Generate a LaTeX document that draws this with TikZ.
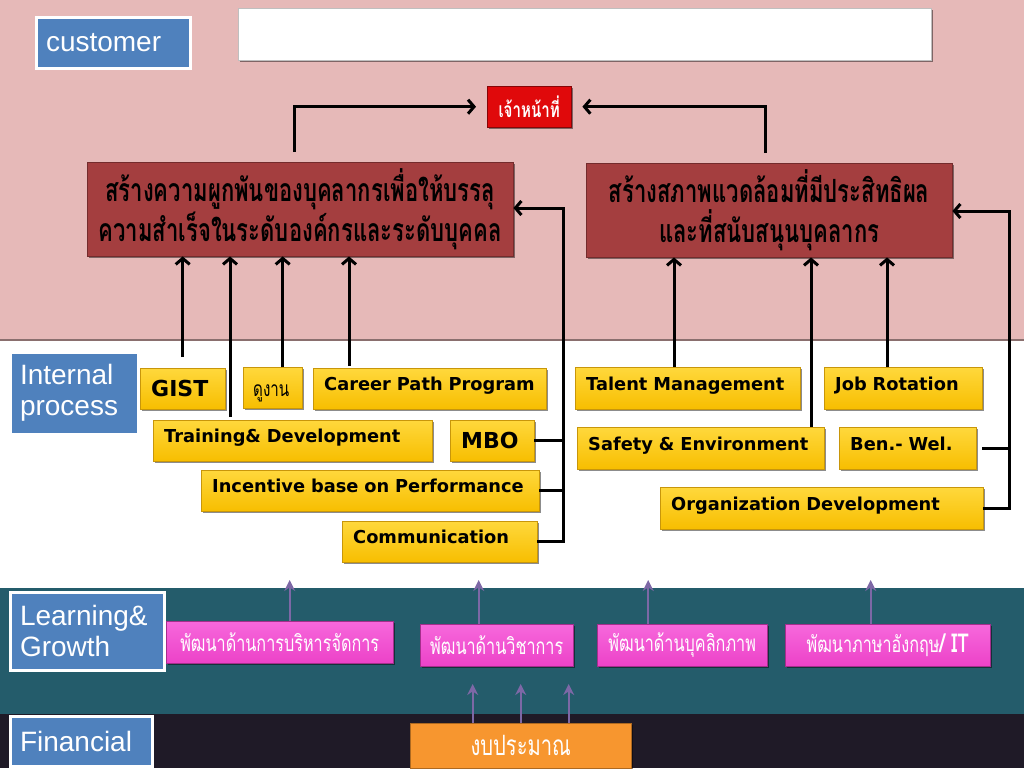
\documentclass[tikz,border=0pt]{standalone}
\usepackage{fontspec}
\setmainfont{Liberation Sans}
\newfontfamily\thaifont[Script=Thai,FakeStretch=0.72]{Loma}
\newfontfamily\thaicond[Script=Thai,FakeStretch=0.69]{Loma}
\newfontfamily\verd{DejaVu Sans}
\usetikzlibrary{arrows.meta,shadows}
\definecolor{bgpink}{HTML}{E6B9B8}
\definecolor{bgteal}{HTML}{245C6B}
\definecolor{bgdark}{HTML}{1F1A27}
\definecolor{lblue}{HTML}{4F81BD}
\definecolor{goalred}{HTML}{A43E3F}
\definecolor{ofcred}{HTML}{E0090B}
\definecolor{gold}{HTML}{F7BE00}
\definecolor{goldlt}{HTML}{FFD83C}
\definecolor{golddk}{HTML}{C8960A}
\definecolor{magen}{HTML}{EC42C8}
\definecolor{magenlt}{HTML}{F768DC}
\definecolor{orng}{HTML}{F7962F}
\definecolor{purp}{HTML}{7D68A6}

\begin{document}
\begin{tikzpicture}[x=1pt,y=-1pt,
		sh/.style={drop shadow={shadow xshift=2pt,shadow yshift=-2pt,opacity=.45,fill=black}},
		lbl/.style={draw=white, line width=3pt, fill=lblue, text=white, anchor=north west, align=left, inner xsep=10pt, font=\fontsize{28}{31}\selectfont, sh},
		goal/.style={draw=goalred!70!black, fill=goalred, anchor=north west, align=center, minimum height=94pt, font=\thaicond\bfseries\fontsize{32}{40}\selectfont, sh},
		ybox/.style={draw=golddk, top color=goldlt, bottom color=gold, anchor=north west, align=left, inner xsep=11pt, minimum height=41pt, text height=13pt, text depth=9pt, font=\verd\bfseries\fontsize{17.8}{20}\selectfont, sh},
		bigy/.style={ybox, text height=18pt, text depth=2pt, font=\verd\bfseries\fontsize{22}{24}\selectfont},
		pbox/.style={draw=magen!70!black, top color=magenlt, bottom color=magen, text=white, anchor=north west, minimum height=42pt, font=\thaifont\fontsize{22.5}{24}\selectfont, sh},
		barrow/.style={line width=3pt, -{Straight Barb[length=6pt,width=14pt]}},
		bline/.style={line width=3pt},
		parrow/.style={purp, line width=2.4pt, -{Stealth[length=11pt,width=11pt]}}
		]
		% bands
		\useasboundingbox (0,0) rectangle (1024,768);
		\fill[bgpink] (0,0) rectangle (1024,340);
		\fill[white] (0,340) rectangle (1024,588);
		\fill[bgteal] (0,588) rectangle (1024,714);
		\fill[bgdark] (0,714) rectangle (1024,768);
		\draw[bgpink!60!black, line width=2pt] (0,340) -- (1024,340);
		
		% labels
		\node[lbl, text width=134pt, minimum height=50pt] (cu) at (34.5,16.5) {customer};
		\node[lbl, text width=108pt, minimum height=82pt] (ip) at (8.5,350.5) {Internal\\process};
		\node[lbl, text width=134pt, minimum height=78pt] (lg) at (8.5,590.5) {Learning\&\\Growth};
		\node[lbl, text width=122pt, minimum height=50pt] (fn) at (8.5,714.5) {Financial};
		
		% customer level
		\node[draw=black!25, fill=white, sh, anchor=north west, minimum width=693pt, minimum height=52pt] (hd) at (238,8) {};
		\node[draw=ofcred!60!black, fill=ofcred, text=white, anchor=north west, minimum width=84pt, minimum height=41pt, font=\thaifont\bfseries\fontsize{21}{22}\selectfont, sh] (ofc) at (487,86) {เจ้าหน้าที่};
		\node[goal, minimum width=426pt] (lt) at (87,162) {สร้างความผูกพันของบุคลากรเพื่อให้บรรลุ\\ความสำเร็จในระดับองค์กรและระดับบุคคล};
		\node[goal, minimum width=366pt] (rt) at (586,163) {สร้างสภาพแวดล้อมที่มีประสิทธิผล\\และที่สนับสนุนบุคลากร};
		\draw[barrow, shorten >=11pt] ([xshift=-6pt,yshift=10pt]lt.north) |- (ofc.west);
		\draw[barrow, shorten >=11pt] ([xshift=-4pt,yshift=10pt]rt.north) |- (ofc.east);
		
		% internal process
		\node[bigy, text width=63pt] (gist) at (140,368) {GIST};
		\node[ybox, text width=39pt, inner xsep=10pt, text height=19pt, text depth=2pt, font=\thaifont\fontsize{21}{22}\selectfont] (dg) at (243,367) {ดูงาน};
		\node[ybox, text width=211pt] (cpp) at (313,368) {Career Path Program};
		\node[ybox, text width=257pt] (td) at (153,420) {Training\& Development};
		\node[bigy, text width=62pt] (mbo) at (450,420) {MBO};
		\node[ybox, text width=316pt] (ibp) at (201,470) {Incentive base on Performance};
		\node[ybox, text width=173pt] (com) at (342,521) {Communication};
		\node[ybox, text width=203pt, minimum height=42pt] (tm) at (575,367) {Talent Management};
		\node[ybox, text width=136pt, minimum height=42pt] (jr) at (824,367) {Job Rotation};
		\node[ybox, text width=225pt, minimum height=42pt] (se) at (577,427) {Safety \& Environment};
		\node[ybox, text width=115pt, minimum height=42pt] (bw) at (839,427) {Ben.- Wel.};
		\node[ybox, text width=301pt, minimum height=42pt] (od) at (660,487) {Organization Development};
		
		\draw[barrow] ([yshift=11pt]gist.north) -- (gist.north |- lt.south);
		\draw[barrow] ([xshift=77pt,yshift=3pt]td.north west) -- ([xshift=77pt]td.north west |- lt.south);
		\draw[barrow] ([xshift=10pt]dg.north) -- ([xshift=10pt]dg.north |- lt.south);
		\draw[barrow] ([xshift=36pt,yshift=2pt]cpp.north west) -- ([xshift=36pt]cpp.north west |- lt.south);
		\draw[barrow] ([xshift=99pt]tm.north west) -- ([xshift=99pt]tm.north west |- rt.south);
		\draw[barrow] ([xshift=234pt]se.north west) -- ([xshift=234pt]se.north west |- rt.south);
		\draw[barrow] ([xshift=63pt]jr.north west) -- ([xshift=63pt]jr.north west |- rt.south);
		
		\coordinate (b1) at (563,208);
		\coordinate (b2) at (1009,211);
		\draw[barrow] (com.east) -| (b1) -- (b1 -| lt.east);
		\draw[bline] (mbo.east) -- (mbo.east -| b1);
		\draw[bline] (ibp.east) -- (ibp.east -| b1);
		\draw[barrow] (od.east) -| (b2) -- (b2 -| rt.east);
		\draw[bline] ([xshift=6pt]bw.east) -- (bw.east -| b2);
		
		% learning & growth
		\node[pbox, minimum width=227pt] (p1) at (166,621) {พัฒนาด้านการบริหารจัดการ};
		\node[pbox, minimum width=153pt] (p2) at (420,624) {พัฒนาด้านวิชาการ};
		\node[pbox, minimum width=170pt] (p3) at (597,624) {พัฒนาด้านบุคลิกภาพ};
		\node[pbox, minimum width=205pt] (p4) at (785,624) {พัฒนาภาษาอังกฤษ{\bfseries\fontsize{26}{26}\selectfont/ IT}};
		\draw[parrow] ([xshift=10pt]p1.north) -- ++(0,-41);
		\draw[parrow] ([xshift=-18pt]p2.north) -- ++(0,-44);
		\draw[parrow] ([xshift=-34pt]p3.north) -- ++(0,-44);
		\draw[parrow] ([xshift=-17pt]p4.north) -- ++(0,-44);
		
		% financial
		\node[draw=orng!70!black, fill=orng, text=white, anchor=north west, minimum width=221pt, minimum height=45pt, font=\thaifont\fontsize{28}{30}\selectfont, sh] (budget) at (410,723) {งบประมาณ};
		\foreach \d in {-48,0,48}
		\draw[parrow] ([xshift=\d pt]budget.north) -- ++(0,-39);
		
\end{tikzpicture}
\end{document}
